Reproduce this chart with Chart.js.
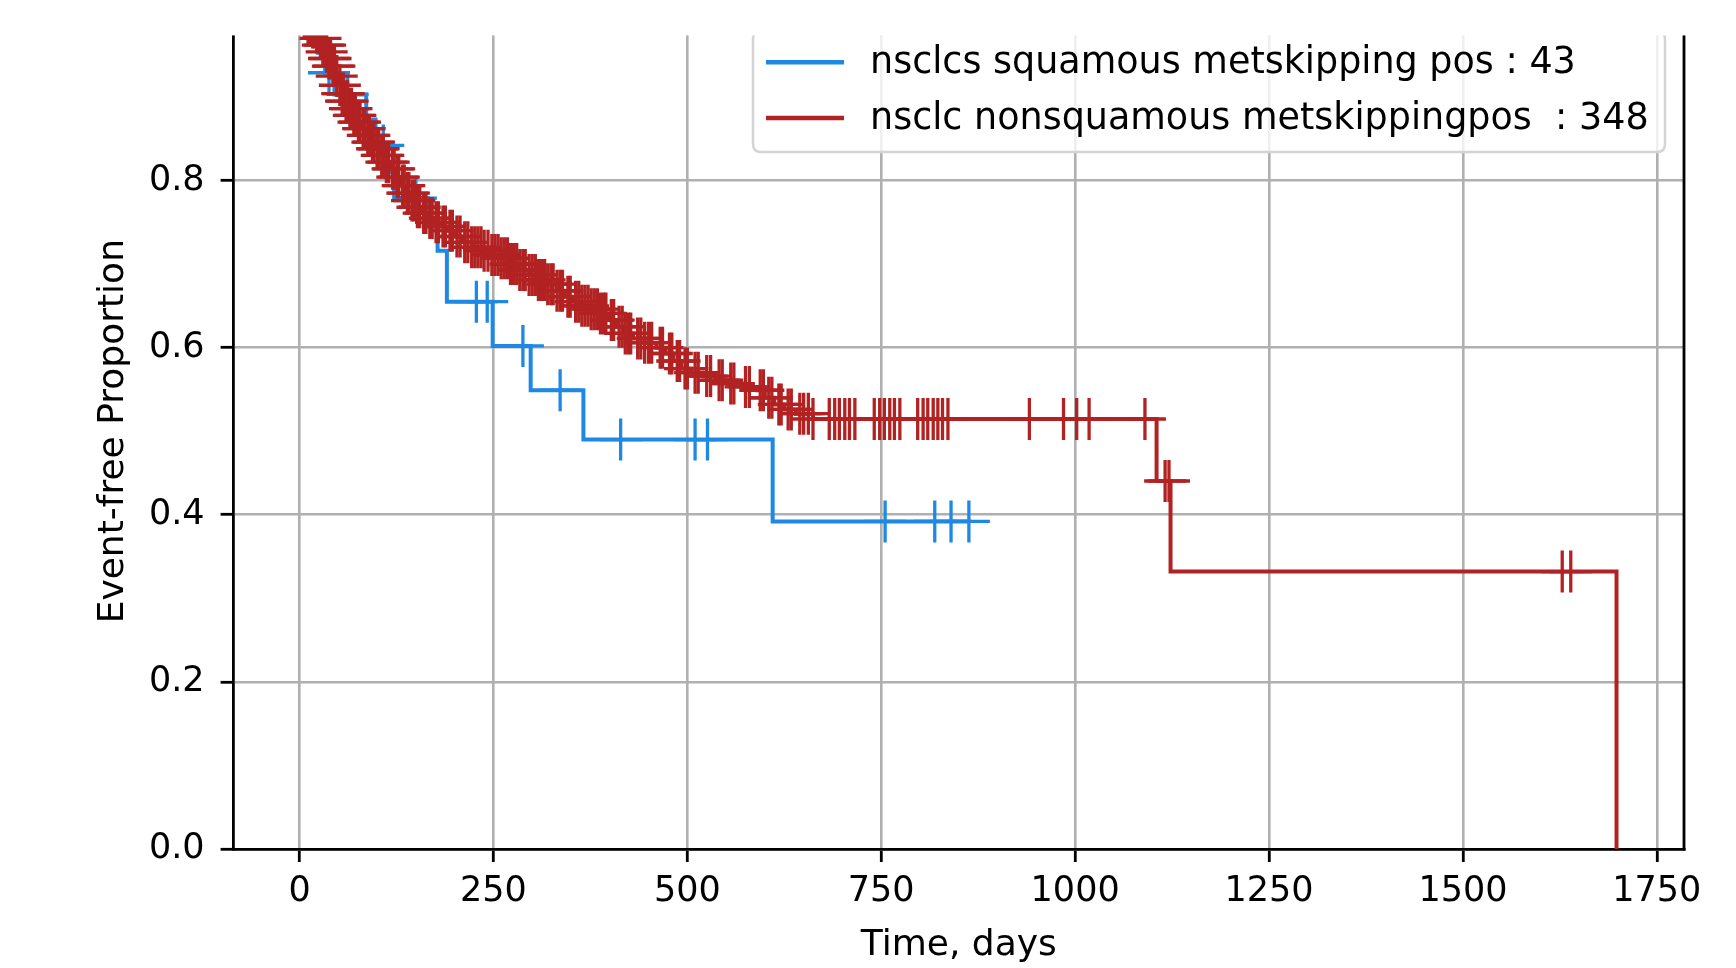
<!DOCTYPE html>
<html>
<head>
<meta charset="utf-8">
<script src="https://cdn.jsdelivr.net/npm/chart.js@4.4.1/dist/chart.umd.min.js"></script>
<style>
  html, body { margin: 0; padding: 0; background: #ffffff; }
  #wrap { width: 1736px; height: 968px; }
</style>
</head>
<body>
<div id="wrap"><canvas id="c" width="1736" height="968"></canvas></div>
<script>
// ---------------- data ----------------
const seriesLabels = [
  'nsclcs squamous metskipping pos : 43',
  'nsclc nonsquamous metskippingpos  : 348'
];
const xTicks = [0, 250, 500, 750, 1000, 1250, 1500, 1750];
const yTicks = [0.0, 0.2, 0.4, 0.6, 0.8];

// squamous (blue) Kaplan-Meier steps: time (days) and event-free proportion
const blueTimes = [0, 12, 24, 33, 45, 86, 98, 110, 122, 165, 178, 190, 249, 298, 366, 610];
const blueSurv  = [1.0, 0.977, 0.953, 0.929, 0.903, 0.873, 0.842, 0.810, 0.779, 0.748, 0.716, 0.655, 0.602, 0.549, 0.490, 0.392];
const blueCensorTimes = [38, 62, 108, 150, 228, 242, 288, 336, 414, 510, 526, 755, 819, 840, 863];

// nonsquamous (red) Kaplan-Meier steps
const redTimes = [0, 6, 11, 16, 21, 26, 30, 34, 38, 42, 46, 50, 54, 58, 63, 68, 74, 80, 86, 92, 98, 104, 110,
  118, 124, 130, 136, 142, 150, 158, 166, 174, 182, 191, 200, 210, 222, 235, 248, 260, 272, 284, 296, 308, 320,
  332, 342, 352, 364, 376, 388, 398, 408, 418, 430, 445, 460, 472, 482, 492, 505, 520, 536, 552, 570, 590, 600,
  612, 625, 640, 662, 1105, 1123, 1698];
const redSurv = [1.0, 0.994, 0.988, 0.983, 0.977, 0.970, 0.962, 0.954, 0.946, 0.937, 0.925, 0.914, 0.904,
  0.895, 0.886, 0.878, 0.870, 0.862, 0.854, 0.846, 0.838, 0.830, 0.822, 0.814, 0.804, 0.794, 0.785, 0.776, 0.768,
  0.761, 0.755, 0.750, 0.745, 0.740, 0.733, 0.726, 0.720, 0.716, 0.711, 0.707, 0.700, 0.693, 0.687, 0.681, 0.676,
  0.668, 0.661, 0.655, 0.650, 0.646, 0.641, 0.633, 0.625, 0.617, 0.611, 0.606, 0.600, 0.593, 0.584, 0.575, 0.570,
  0.566, 0.561, 0.557, 0.553, 0.549, 0.540, 0.532, 0.526, 0.521, 0.5146, 0.4404, 0.332, 0.0];
const redCensorTimes = [3, 6, 9, 11, 14, 17, 19, 22, 25, 27, 30, 33, 35, 38, 40, 43, 45, 48, 52, 55, 57, 60, 62, 65,
  67, 70, 72, 76, 78, 82, 84, 88, 90, 94, 96, 100, 102, 106, 108, 112, 115, 120, 122, 126, 128, 133, 135, 139, 141,
  145, 148, 152, 155, 160, 163, 168, 171, 176, 179, 185, 188, 194, 197, 203, 207, 213, 217, 222, 226, 230, 234, 238,
  243, 248, 252, 256, 260, 264, 268, 272, 276, 280, 284, 288, 291, 296, 300, 304, 308, 312, 316, 320, 324, 327, 332,
  336, 339, 346, 349, 356, 360, 364, 368, 372, 376, 380, 384, 388, 392, 395, 402, 405, 412, 416, 420, 424, 427, 436,
  440, 445, 450, 454, 465, 468, 477, 480, 487, 490, 497, 500, 510, 514, 525, 530, 541, 545, 556, 560, 575, 580, 594,
  598, 605, 609, 618, 621, 630, 634, 645, 650, 656, 662, 683, 690, 696, 703, 709, 716, 741, 748, 754, 761, 767, 774,
  797, 804, 810, 817, 823, 829, 836, 941, 985, 1002, 1018, 1090, 1116, 1121, 1628, 1639];

// ---------------- helpers ----------------
const BLUE = '#1e88e5';
const RED = '#b22222';
const FONT = 'DejaVu Sans';

function survAt(times, surv, t) {
  let s = surv[0];
  for (let i = 0; i < times.length; i++) { if (times[i] <= t) s = surv[i]; else break; }
  return s;
}
function linePoints(times, surv, censors) {
  const pts = times.map((t, i) => ({ x: t, y: surv[i] }));
  const lastC = Math.max(...censors);
  if (lastC > times[times.length - 1]) pts.push({ x: lastC, y: surv[surv.length - 1] });
  return pts;
}
function censorPoints(times, surv, censors) {
  return censors.map(t => ({ x: t, y: survAt(times, surv, t) }));
}

// ---------------- plugins ----------------
const bgPlugin = {
  id: 'bg',
  beforeDraw(chart) {
    const c = chart.ctx; c.save(); c.fillStyle = '#ffffff';
    c.fillRect(0, 0, chart.width, chart.height); c.restore();
  }
};
const framePlugin = {
  id: 'frame',
  afterDraw(chart) {
    const c = chart.ctx, a = chart.chartArea;
    c.save();
    // right spine
    c.strokeStyle = '#000'; c.lineWidth = 2.8;
    c.beginPath(); c.moveTo(a.right, a.top); c.lineTo(a.right, a.bottom + 1.4); c.stroke();
    // legend (matplotlib style, upper right)
    const bx = 753, by = 31, bw = 912, bh = 121, r = 8;
    c.beginPath();
    c.moveTo(bx + r, by); c.lineTo(bx + bw - r, by); c.quadraticCurveTo(bx + bw, by, bx + bw, by + r);
    c.lineTo(bx + bw, by + bh - r); c.quadraticCurveTo(bx + bw, by + bh, bx + bw - r, by + bh);
    c.lineTo(bx + r, by + bh); c.quadraticCurveTo(bx, by + bh, bx, by + bh - r);
    c.lineTo(bx, by + r); c.quadraticCurveTo(bx, by, bx + r, by); c.closePath();
    c.fillStyle = 'rgba(255,255,255,0.8)'; c.fill();
    c.strokeStyle = '#d4d4d4'; c.lineWidth = 2.5; c.stroke();
    const rows = [62.3, 118];
    chart.data.datasets.filter(d => d.inLegend).forEach((d, i) => {
      c.strokeStyle = d.borderColor; c.lineWidth = 4.5;
      c.beginPath(); c.moveTo(766, rows[i]); c.lineTo(844, rows[i]); c.stroke();
      c.fillStyle = '#000'; c.font = '36.5px "' + FONT + '"';
      c.textAlign = 'left'; c.textBaseline = 'alphabetic';
      c.fillText(d.label, 870, rows[i] + 11);
    });
    // figure crop: the top strip of the original figure is blank
    c.fillStyle = '#ffffff';
    c.fillRect(0, 0, chart.width, 35.4);
    c.restore();
  }
};

// ---------------- chart ----------------
const ctx = document.getElementById('c').getContext('2d');
new Chart(ctx, {
  type: 'line',
  data: {
    datasets: [
      { label: seriesLabels[0], inLegend: true, data: linePoints(blueTimes, blueSurv, blueCensorTimes),
        borderColor: BLUE, borderWidth: 4, stepped: true, pointRadius: 0, fill: false, order: 4 },
      { label: seriesLabels[1], inLegend: true, data: linePoints(redTimes, redSurv, redCensorTimes),
        borderColor: RED, borderWidth: 4, stepped: true, pointRadius: 0, fill: false, order: 2 },
      { label: 'censored squamous', data: censorPoints(blueTimes, blueSurv, blueCensorTimes),
        showLine: false, pointStyle: 'cross', pointRadius: 21, pointHoverRadius: 21,
        pointBorderWidth: 3.3, pointBorderColor: BLUE, borderColor: BLUE, order: 3 },
      { label: 'censored nonsquamous', data: censorPoints(redTimes, redSurv, redCensorTimes),
        showLine: false, pointStyle: 'cross', pointRadius: 21, pointHoverRadius: 21,
        pointBorderWidth: 3.3, pointBorderColor: RED, borderColor: RED, order: 1 }
    ]
  },
  options: {
    responsive: false,
    devicePixelRatio: 1,
    animation: false,
    layout: { autoPadding: false, padding: { top: 13.4, right: 52, bottom: 0, left: 0 } },
    plugins: { legend: { display: false }, tooltip: { enabled: false } },
    elements: { line: { tension: 0 } },
    scales: {
      x: {
        type: 'linear', min: -85, max: 1785,
        afterBuildTicks: s => { s.ticks = xTicks.map(v => ({ value: v })); },
        afterFit: s => { s.height = 119; },
        ticks: { font: { family: FONT, size: 35 }, color: '#000', padding: 8.6, maxRotation: 0,
                 callback: v => String(v) },
        grid: { color: '#b0b0b0', lineWidth: 2.6, tickColor: '#000', tickLength: 13, tickWidth: 2.8 },
        border: { display: true, color: '#000', width: 2.8 },
        title: { display: true, text: 'Time, days', color: '#000',
                 font: { family: FONT, size: 36 }, padding: { top: 0, bottom: 0.5 } }
      },
      y: {
        type: 'linear', min: 0, max: 1.0,
        afterBuildTicks: s => { s.ticks = yTicks.map(v => ({ value: v })); },
        afterFit: s => { s.width = 233.6; s.paddingTop = 0; s.paddingBottom = 0; },
        ticks: { font: { family: FONT, size: 35, lineHeight: 0.5 }, color: '#000', padding: 16,
                 callback: v => Number(v).toFixed(1) },
        grid: { color: '#b0b0b0', lineWidth: 2.6, tickColor: '#000', tickLength: 13, tickWidth: 2.8 },
        border: { display: true, color: '#000', width: 2.8 },
        title: { display: true, text: 'Event-free Proportion', color: '#000',
                 font: { family: FONT, size: 36 }, padding: { top: 92.5, bottom: 0 } }
      }
    }
  },
  plugins: [bgPlugin, framePlugin]
});
</script>
</body>
</html>
